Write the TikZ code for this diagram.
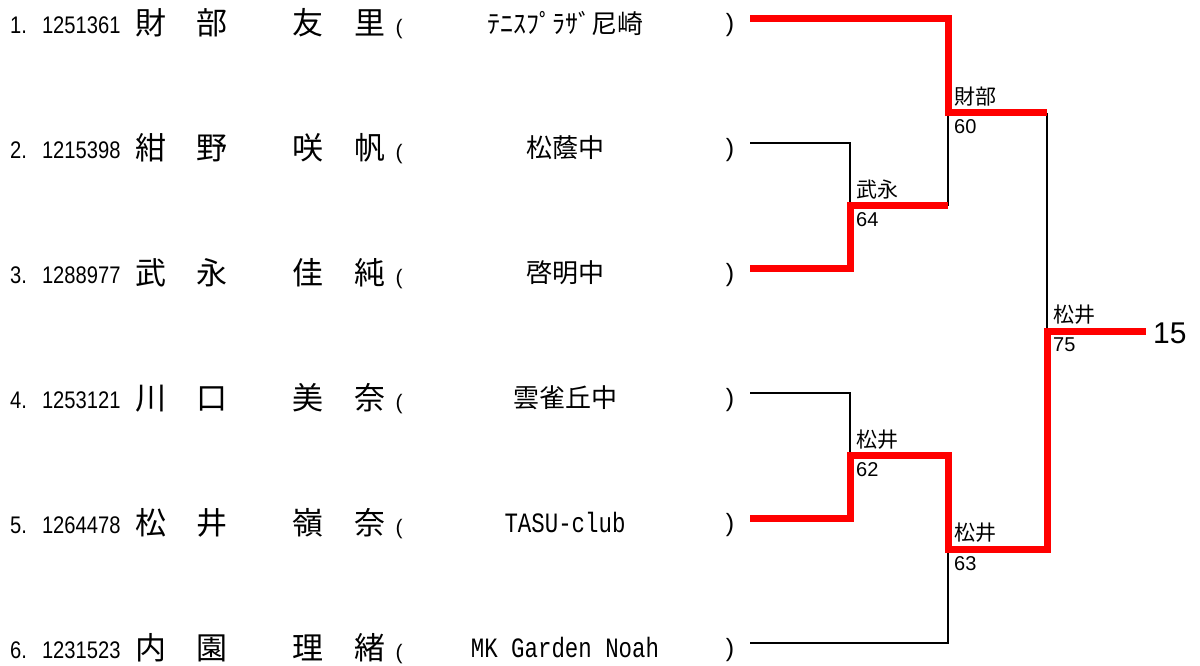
\documentclass[tikz,border=0pt]{standalone}
\usepackage{fontspec}
\setmainfont{Liberation Sans}
\newfontfamily\jp{Noto Sans CJK JP}
\newfontfamily\numfont[FakeStretch=0.84]{Liberation Sans}
\newfontfamily\clubfont[FakeStretch=0.8]{Liberation Mono}
\usetikzlibrary{positioning}

\tikzset{
  num/.style={anchor=west, inner sep=0pt, font=\numfont\fontsize{24}{24}\selectfont},
  pname/.style={anchor=west, inner sep=0pt, font=\jp\fontsize{31}{31}\selectfont},
  club/.style={inner sep=0pt, font=\jp\fontsize{26}{26}\selectfont},
  lparen/.style={inner sep=0pt, font=\fontsize{21}{21}\selectfont},
  rparen/.style={inner sep=0pt, font=\fontsize{25}{25}\selectfont},
  win/.style={red, line width=7pt},
  lose/.style={black, line width=2pt},
  who/.style={inner sep=0pt, font=\jp\fontsize{21}{21}\selectfont},
  pts/.style={inner sep=0pt, font=\fontsize{20}{20}\selectfont}
}

\begin{document}
\begin{tikzpicture}[x=1pt,y=-1pt]
\useasboundingbox (0,0) rectangle (1200,665);

\node[num] (n1) at (10,25) {1.\hspace{15pt}1251361};
\node[pname] (p1) at (135.5,23) {財\hspace{30pt}部\hspace{65pt}友\hspace{31pt}里};
\node[lparen] (o1) at (399,29) {(};
\node[club] (c1) at (565,23) {ﾃﾆｽﾌﾟﾗｻﾞ尼崎};
\node[rparen] (e1) at (730,25) {)};
\coordinate (s1) at (750,18);

\node[num] (n2) at (10,150) {2.\hspace{15pt}1215398};
\node[pname] (p2) at (135.5,148) {紺\hspace{30pt}野\hspace{65pt}咲\hspace{31pt}帆};
\node[lparen] (o2) at (399,154) {(};
\node[club] (c2) at (565,147.5) {松蔭中};
\node[rparen] (e2) at (730,150) {)};
\coordinate (s2) at (750,143);

\node[num] (n3) at (10,275) {3.\hspace{15pt}1288977};
\node[pname] (p3) at (135.5,273) {武\hspace{30pt}永\hspace{65pt}佳\hspace{31pt}純};
\node[lparen] (o3) at (399,279) {(};
\node[club] (c3) at (565,272.5) {啓明中};
\node[rparen] (e3) at (730,275) {)};
\coordinate (s3) at (750,268);

\node[num] (n4) at (10,400) {4.\hspace{15pt}1253121};
\node[pname] (p4) at (135.5,398) {川\hspace{30pt}口\hspace{65pt}美\hspace{31pt}奈};
\node[lparen] (o4) at (399,404) {(};
\node[club] (c4) at (565,397.5) {雲雀丘中};
\node[rparen] (e4) at (730,400) {)};
\coordinate (s4) at (750,393);

\node[num] (n5) at (10,525) {5.\hspace{15pt}1264478};
\node[pname] (p5) at (135.5,523) {松\hspace{30pt}井\hspace{65pt}嶺\hspace{31pt}奈};
\node[lparen] (o5) at (399,529) {(};
\node[club] (c5) at (565,522.5) {\clubfont\fontsize{28}{28}\selectfont TASU-club};
\node[rparen] (e5) at (730,525) {)};
\coordinate (s5) at (750,518);

\node[num] (n6) at (10,650) {6.\hspace{15pt}1231523};
\node[pname] (p6) at (135.5,648) {内\hspace{30pt}園\hspace{65pt}理\hspace{31pt}緒};
\node[lparen] (o6) at (399,654) {(};
\node[club] (c6) at (565,647.5) {\clubfont\fontsize{28}{28}\selectfont MK Garden Noah};
\node[rparen] (e6) at (730,650) {)};
\coordinate (s6) at (750,643);

\coordinate (ma) at (850,205.5);
\coordinate (mb) at (850,455.5);
\coordinate (mc) at (948,112.75);
\coordinate (md) at (948,549);
\coordinate (me) at (1047,331);
\coordinate (fin) at (1146,331);

\draw[lose] (s2) -| (ma);
\draw[lose] (ma -| mc) -- (mc);
\draw[lose] (mc -| me) -- (me);
\draw[lose] (s4) -| (mb);
\draw[lose] (s6) -| (md);

\draw[win] (s3) -| (ma) -- (ma -| mc);
\draw[win] (s1) -| (mc) -- (mc -| me);
\draw[win] (s5) -| (mb) -| (md) -| (me) -- (fin);

\node[who, above right=6pt and 6pt of ma] (wa) {武永};
\node[pts, below right=7pt and 6pt of ma] (ta) {64};
\node[who, above right=6pt and 6pt of mb] (wb) {松井};
\node[pts, below right=7pt and 6pt of mb] (tb) {62};
\node[who, above right=6pt and 6pt of mc] (wc) {財部};
\node[pts, below right=7pt and 6pt of mc] (tc) {60};
\node[who, above right=6pt and 6pt of md] (wd) {松井};
\node[pts, below right=7pt and 6pt of md] (td) {63};
\node[who, above right=6pt and 6pt of me] (we) {松井};
\node[pts, below right=7pt and 6pt of me] (te) {75};

\node[anchor=west, inner sep=0pt, font=\fontsize{30}{30}\selectfont] (champ) at (1153,333) {15};
\end{tikzpicture}
\end{document}
